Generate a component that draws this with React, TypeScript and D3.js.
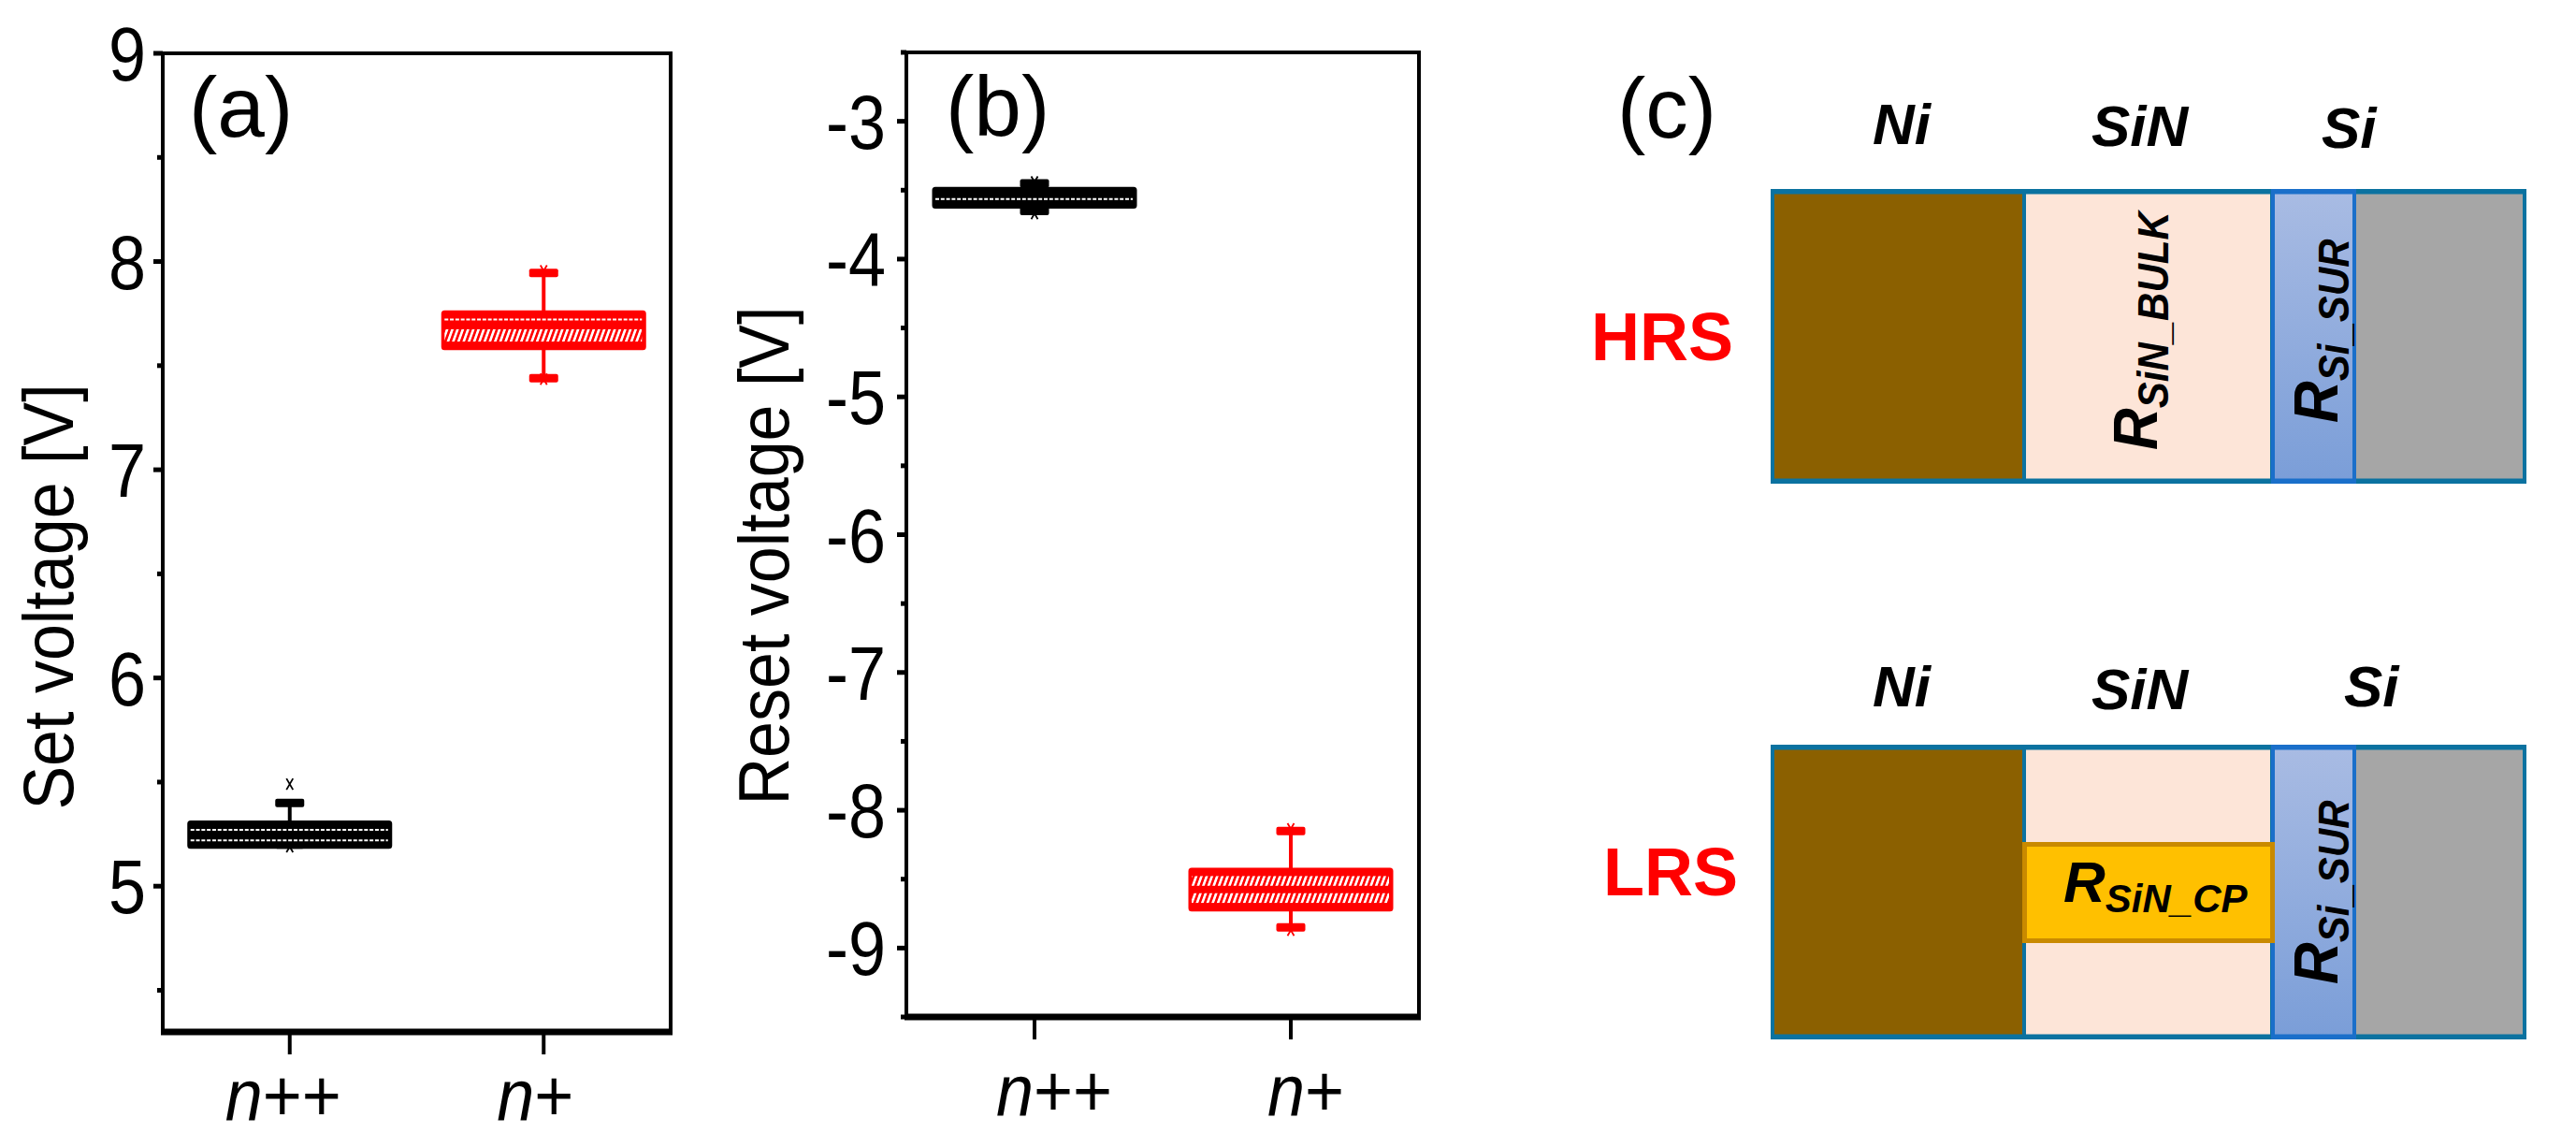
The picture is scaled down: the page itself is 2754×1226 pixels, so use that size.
import React from "react";
import * as d3 from "d3";

const FONT = "'Liberation Sans', Arial, sans-serif";
const RED = "#ff0000";
const BLACK = "#000000";

const categories = ["n++", "n+"];

// [outlierLow, capLow, boxLow, boxHigh, capHigh, outlierHigh]
const setNpp = [5.19, 5.2, 5.195, 5.3, 5.4, 5.49];
const setNp = [7.435, 7.44, 7.59, 7.75, 7.945, 7.955];
const resetNpp = [-3.67, -3.65, -3.61, -3.5, -3.45, -3.44];
const resetNp = [-8.87, -8.85, -8.71, -8.44, -8.15, -8.135];

const setTicks = [5, 6, 7, 8, 9];
const setMinor = [4.5, 5.5, 6.5, 7.5, 8.5];
const resetTicks = [-9, -8, -7, -6, -5, -4, -3];
const resetMinor = [-9.5, -8.5, -7.5, -6.5, -5.5, -4.5, -3.5, -2.5];

type Fill = { kind: "dash" | "hatch"; from: number; to?: number };
const fillSetNpp: Fill[] = [{ kind: "dash", from: 0.28 }, { kind: "dash", from: 0.76 }];
const fillSetNp: Fill[] = [{ kind: "dash", from: 0.18 }, { kind: "hatch", from: 0.47, to: 0.84 }];
const fillResetNpp: Fill[] = [{ kind: "dash", from: 0.59 }];
const fillResetNp: Fill[] = [{ kind: "hatch", from: 0.14, to: 0.4 }, { kind: "hatch", from: 0.6, to: 0.86 }];

const layerNames = ["Ni", "SiN", "Si"];
const stateNames = ["HRS", "LRS"];

function Box({ stats, cx, y, color, fills, halfW }: any) {
  const [ol, cl, bl, bh, ch, oh] = stats;
  const top = y(bh), bot = y(bl), h = bot - top;
  const x0 = cx - halfW;
  const w = halfW * 2;
  const cross = (v: number, i: number) => {
    const py = y(v);
    return (
      <path key={i} d={`M${cx - 3.5},${py - 6}L${cx + 3.5},${py + 6}M${cx + 3.5},${py - 6}L${cx - 3.5},${py + 6}`}
        stroke={color} strokeWidth={1.8} fill="none" />
    );
  };
  return (
    <g>
      <line x1={cx} x2={cx} y1={y(ch)} y2={y(cl)} stroke={color} strokeWidth={4} />
      {[cl, ch].map((v: number, i: number) => (
        <rect key={i} x={cx - 15.5} width={31} y={y(v) - 4.5} height={9} rx={2} fill={color} />
      ))}
      {[ol, oh].map(cross)}
      <rect x={x0} y={top} width={w} height={h} fill={color} stroke={color} strokeWidth={7} strokeLinejoin="round" />
      {fills.map((f: Fill, i: number) =>
        f.kind === "dash" ? (
          <line key={i} x1={x0} x2={x0 + w - 1} y1={top + f.from * h} y2={top + f.from * h}
            stroke="#fff" strokeWidth={2} strokeDasharray="4 1.8" />
        ) : (
          <rect key={i} x={x0} width={w - 1} y={top + f.from * h} height={((f.to as number) - f.from) * h} fill="url(#hatch)" />
        )
      )}
    </g>
  );
}

function Panel({ frame, domain, ticks, minor, label, labelX, yTitle, titleX, series, labelDx, tickEnd, xLabelY }: any) {
  const { left, right, top, bottom } = frame;
  const y = d3.scaleLinear().domain(domain).range([bottom, top]);
  const x = d3.scaleBand().domain(categories).range([left, right]);
  return (
    <g fontFamily={FONT}>
      <path d={`M${left},${bottom}V${top}H${right}V${bottom}`} fill="none" stroke="#000" strokeWidth={4} />
      <line x1={left - 2} x2={right + 2} y1={bottom} y2={bottom} stroke="#000" strokeWidth={7} />
      {ticks.map((t: number) => (
        <g key={t}>
          <line x1={left - 10} x2={left} y1={y(t)} y2={y(t)} stroke="#000" strokeWidth={5} />
          <text transform={`translate(${tickEnd},${y(t) + 29}) scale(1,1.12)`} fontSize={72} textAnchor="end" fill="#000">{t}</text>
        </g>
      ))}
      {minor.map((t: number) => (
        <line key={t} x1={left - 6} x2={left} y1={y(t)} y2={y(t)} stroke="#000" strokeWidth={5} />
      ))}
      {categories.map((c, i) => {
        const cx = (x(c) as number) + x.bandwidth() / 2;
        return (
          <g key={c}>
            <line x1={cx} x2={cx} y1={bottom} y2={bottom + 24} stroke="#000" strokeWidth={4} />
            <text transform={`translate(${cx + labelDx[i]},${xLabelY}) scale(1,1.08)`} fontSize={72} textAnchor="middle" fill="#000">
              <tspan fontStyle="italic">n</tspan>{c.slice(1)}
            </text>
            <Box stats={series[i].stats} cx={cx} y={y} color={series[i].color} fills={series[i].fills} halfW={106} />
          </g>
        );
      })}
      <text x={labelX} y={top + 89} fontSize={91} fill="#000">{label}</text>
      <text transform={`translate(${titleX.x},${titleX.y}) rotate(-90) scale(1,1.08)`} fontSize={70} textAnchor="middle" fill="#000">{yTitle}</text>
    </g>
  );
}

function Stack({ top, bottom, children }: any) {
  const inX = 4, inY = 5.5;
  const border = "#0b72a0";
  const siBorder = "#1a6fca";
  const layers = [
    { a: 1893, b: 2166, fill: "#8b6000", stroke: border },
    { a: 2162, b: 2431, fill: "#fde5d8", stroke: border },
    { a: 2515, b: 2701, fill: "#a6a6a6", stroke: border },
    { a: 2428, b: 2519, fill: `url(#si${top})`, stroke: siBorder },
  ];
  return (
    <g>
      <defs>
        <linearGradient id={`si${top}`} x1="0" x2="0" y1="0" y2="1">
          <stop offset="0" stopColor="#a8bbe3" />
          <stop offset="1" stopColor="#7b9ed8" />
        </linearGradient>
      </defs>
      {layers.map((l, i) => (
        <g key={i}>
          <rect x={l.a} y={top} width={l.b - l.a} height={bottom - top} fill={l.stroke} />
          <rect x={l.a + inX} y={top + inY} width={l.b - l.a - 2 * inX} height={bottom - top - 2 * inY} fill={l.fill} />
        </g>
      ))}
      {children}
    </g>
  );
}

const B = { fontFamily: FONT, fontWeight: 700, fontStyle: "italic", fill: "#000" } as const;

function RText({ x, y, sub, rotate, subSize = 42, drop = 11 }: any) {
  const tr = rotate ? `translate(${x},${y}) rotate(-90) scale(1,1.08)` : `translate(${x},${y})`;
  return (
    <text transform={tr} {...B}>
      <tspan fontSize={62}>R</tspan>
      <tspan fontSize={subSize} dy={drop}>{sub}</tspan>
    </text>
  );
}

function Layers({ baselines, siX }: any) {
  const xs = [2002, 2236, siX];
  return (
    <g>
      {layerNames.map((n, i) => (
        <text key={n} x={xs[i]} y={baselines[i]} fontSize={62} {...B}>{n}</text>
      ))}
    </g>
  );
}

export default function App() {
  return (
    <div style={{ position: "absolute", left: 0, top: 0, width: 2754, height: 1226, overflow: "hidden", background: "#fff" }}>
      <svg width={2754} height={1226} style={{ display: "block" }}>
        <defs>
          <pattern id="hatch" width={5.6} height={13} patternUnits="userSpaceOnUse" patternTransform="skewX(-20)">
            <rect x={0} y={0} width={2.8} height={13} fill="#fff" />
          </pattern>
        </defs>
        <Panel
          frame={{ left: 174, right: 717, top: 57, bottom: 1103 }}
          domain={[4.3, 9]}
          ticks={setTicks}
          minor={setMinor}
          label="(a)"
          labelX={202}
          yTitle="Set voltage [V]"
          titleX={{ x: 78, y: 638 }}
          tickEnd={156}
          labelDx={[-7, -9]}
          xLabelY={1198}
          series={[
            { stats: setNpp, color: BLACK, fills: fillSetNpp },
            { stats: setNp, color: RED, fills: fillSetNp },
          ]}
        />
        <Panel
          frame={{ left: 969, right: 1517, top: 56, bottom: 1087 }}
          domain={[-9.5, -2.5]}
          ticks={resetTicks}
          minor={resetMinor}
          label="(b)"
          labelX={1011}
          yTitle="Reset voltage [V]"
          titleX={{ x: 843, y: 594 }}
          tickEnd={947}
          labelDx={[21, 16]}
          xLabelY={1193}
          series={[
            { stats: resetNpp, color: BLACK, fills: fillResetNpp },
            { stats: resetNp, color: RED, fills: fillResetNp },
          ]}
        />
        <text x={1729} y={147} fontSize={91} fontFamily={FONT} fill="#000">(c)</text>
        <Layers baselines={[154, 156, 158]} siX={2482} />
        <Layers baselines={[755, 758, 755]} siX={2506} />
        <text x={1701} y={385} fontSize={72} fontFamily={FONT} fontWeight={700} fill={RED}>{stateNames[0]}</text>
        <text x={1714} y={957} fontSize={72} fontFamily={FONT} fontWeight={700} fill={RED}>{stateNames[1]}</text>
        <Stack top={202} bottom={517}>
          <RText x={2306} y={481} sub="SiN_BULK" rotate />
          <RText x={2499} y={452} sub="Si_SUR" rotate />
        </Stack>
        <Stack top={796} bottom={1111}>
          <rect x={2164.5} y={902.5} width={265} height={103} fill="#ffc000" stroke="#c98a00" strokeWidth={5} />
          <RText x={2206} y={964} sub="SiN_CP" />
          <RText x={2499} y={1052} sub="Si_SUR" rotate />
        </Stack>
      </svg>
    </div>
  );
}
